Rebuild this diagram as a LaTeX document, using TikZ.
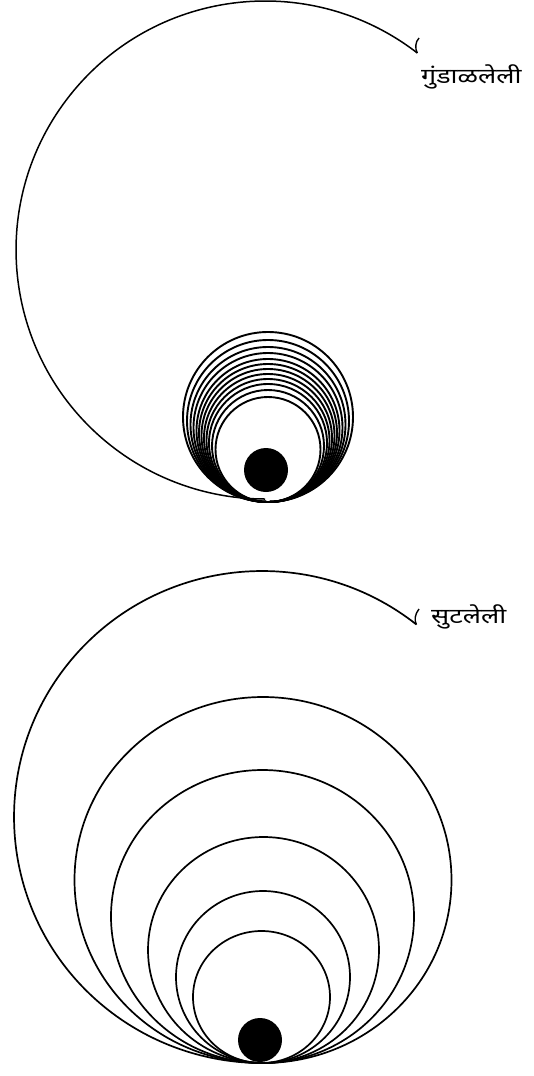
\documentclass[tikz,border=0pt]{standalone}
\usepackage{fontspec}
\newfontfamily\deva[Script=Devanagari]{Noto Sans}
\begin{document}
\begin{tikzpicture}[x=1pt,y=-1pt,
  curve/.style={line width=1.5pt},
  ring/.style={line width=1.7pt},
  smallring/.style={line width=1.9pt},
  lab/.style={font=\deva\fontsize{21}{21}\selectfont, inner sep=0pt, anchor=west},
  hook/.style={line width=1.4pt}]
\useasboundingbox[fill=white] (0,0) rectangle (533,1076);
% ---------- top figure ----------
\coordinate (t1) at (417.3,53.0);
\draw[curve] (t1) arc[start angle=-52.3, end angle=-270, radius=249];
\draw[hook] (t1) .. controls (415,49) and (415,42) .. (419,38);
\foreach \r in {85,81,77.5,74.5,71.5,69,66.5,64,61.5,59,56,52.5}{
  \draw[smallring] (268,502-\r) circle[radius=\r];
}
\fill (266,470) circle[radius=22];
\node[lab] (l1) at (421,77) {\scalebox{1.28}[1]{गुंडाळलेली}};
% ---------- bottom figure ----------
\coordinate (t2) at (416.4,624.5);
\draw[ring] (t2) arc[start angle=-51.5, end angle=-270, x radius=248, y radius=246];
\draw[hook] (t2) .. controls (414,620) and (415,614) .. (419,609);
\draw[ring] (263,880) ellipse[x radius=188.5, y radius=183];
\draw[ring] (262.5,916.5) ellipse[x radius=151.5, y radius=146.5];
\draw[ring] (263.5,950) ellipse[x radius=115.5, y radius=113];
\draw[ring] (263,977) ellipse[x radius=87, y radius=86];
\draw[ring] (261.5,997) ellipse[x radius=68.5, y radius=66];
\fill (260,1040) circle[radius=22];
\node[lab] (l2) at (431,617) {\scalebox{1.28}[1]{सुटलेली}};
\end{tikzpicture}
\end{document}
